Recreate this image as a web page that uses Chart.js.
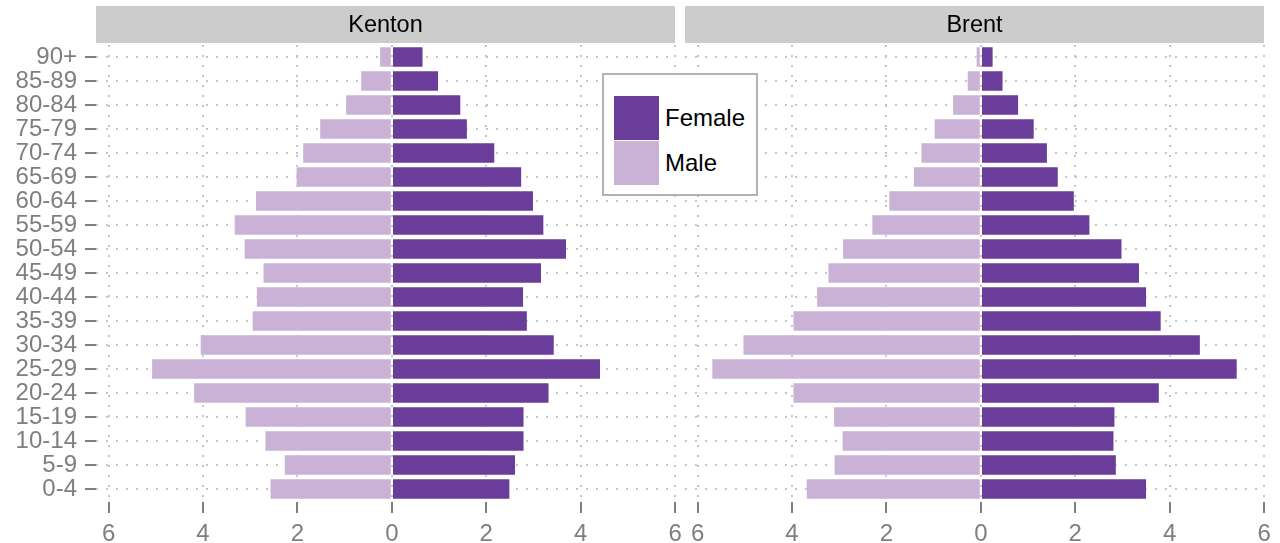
<!DOCTYPE html>
<html>
<head>
<meta charset="utf-8">
<script src="https://cdn.jsdelivr.net/npm/chart.js@4/dist/chart.umd.min.js"></script>
<style>
  html, body { margin: 0; padding: 0; background: #fff; }
  body { width: 1280px; height: 543px; position: relative; overflow: hidden; font-family: "Liberation Sans", Arial, sans-serif; }
  .panel { position: absolute; top: 0; height: 543px; }
  #wrapKenton { left: 0; width: 684px; }
  #wrapBrent { left: 676px; width: 604px; }
  #legend {
    position: absolute; left: 602px; top: 73px; width: 152px; height: 119px;
    border: 2px solid #b3b3b3; background: #fff;
  }
  .key { position: absolute; left: 10px; width: 45px; height: 44px; }
  .keyText { position: absolute; left: 61px; font-size: 24px; color: #000; line-height: 44px; }
</style>
</head>
<body>
<div class="panel" id="wrapKenton"><canvas id="chartKenton"></canvas></div>
<div class="panel" id="wrapBrent"><canvas id="chartBrent"></canvas></div>
<div id="legend"></div>
<script>
// age groups, youngest first (drawn bottom to top)
const edades = ["0-4", "5-9", "10-14", "15-19", "20-24", "25-29", "30-34", "35-39", "40-44",
    "45-49", "50-54", "55-59", "60-64", "65-69", "70-74", "75-79", "80-84", "85-89", "90+"];

// percent of population
const kentonMale = [2.59, 2.29, 2.70, 3.12, 4.21, 5.10, 4.07, 2.97, 2.88, 2.74, 3.14, 3.35, 2.90, 2.04, 1.90, 1.54, 0.99, 0.67, 0.27];
const kentonFemale = [2.51, 2.63, 2.81, 2.81, 3.34, 4.43, 3.45, 2.88, 2.80, 3.18, 3.71, 3.23, 3.01, 2.76, 2.19, 1.61, 1.47, 1.00, 0.67];
const brentMale = [3.71, 3.12, 2.95, 3.13, 3.99, 5.71, 5.05, 3.99, 3.49, 3.25, 2.94, 2.32, 1.96, 1.44, 1.28, 1.00, 0.61, 0.30, 0.11];
const brentFemale = [3.52, 2.88, 2.83, 2.85, 3.79, 5.44, 4.66, 3.83, 3.52, 3.37, 3.00, 2.32, 1.99, 1.65, 1.42, 1.14, 0.81, 0.48, 0.27];

const xTicks = [-6, -4, -2, 0, 2, 4, 6];
const colorFemale = "#6a3d9a";
const colorMale = "#cab2d6";
const gris = "#7f7f7f";

// shared x range like ggplot (data range + 5%)
const lo = -Math.max(...kentonMale, ...brentMale);
const hi = Math.max(...kentonFemale, ...brentFemale);
const xMin = lo - 0.05 * (hi - lo);
const xMax = hi + 0.05 * (hi - lo);

Chart.defaults.font.family = '"Liberation Sans", Arial, sans-serif';
Chart.defaults.font.size = 24;

const stripPlugin = {
    id: "strip",
    beforeDraw(chart, args, opts) {
        const { ctx, chartArea } = chart;
        ctx.save();
        ctx.fillStyle = "#cccccc";
        ctx.fillRect(chartArea.left, 6, chartArea.right - chartArea.left, 37);
        ctx.fillStyle = "#000";
        ctx.font = '23.5px "Liberation Sans", Arial, sans-serif';
        ctx.textAlign = "center";
        ctx.textBaseline = "middle";
        ctx.fillText(opts.text, (chartArea.left + chartArea.right) / 2, 25.5);
        ctx.restore();
    },
    afterDraw(chart) {
        // tick marks under the x axis
        const { ctx, chartArea } = chart;
        const sx = chart.scales.x;
        ctx.save();
        ctx.fillStyle = gris;
        xTicks.forEach(v => {
            const px = Math.round(sx.getPixelForValue(v));
            ctx.fillRect(px - 1, chartArea.bottom + 1, 2, 11);
        });
        ctx.restore();
    }
};

function crearPanel(id, titulo, male, female, conEjeY, padIzq, padDer) {
    return new Chart(document.getElementById(id), {
        type: "bar",
        data: {
            labels: edades,
            datasets: [
                { label: "Female", data: female, backgroundColor: colorFemale, borderColor: "rgba(255,255,255,0.45)", borderWidth: 1 },
                { label: "Male", data: male.map(v => -v), backgroundColor: colorMale, borderColor: "rgba(255,255,255,0.45)", borderWidth: 1 }
            ]
        },
        options: {
            indexAxis: "y",
            responsive: true,
            maintainAspectRatio: false,
            animation: false,
            layout: { padding: { top: 45, right: padDer, bottom: 0, left: padIzq } },
            datasets: { bar: { barPercentage: 0.9, categoryPercentage: 1.0 } },
            plugins: {
                legend: { display: false },
                tooltip: { enabled: false },
                strip: { text: titulo }
            },
            scales: {
                x: {
                    stacked: true,
                    min: xMin,
                    max: xMax,
                    afterBuildTicks: s => { s.ticks = xTicks.map(v => ({ value: v })); },
                    afterFit: s => { s.height = 42; s.paddingLeft = 0; s.paddingRight = 0; },
                    ticks: { color: gris, padding: 8, maxRotation: 0, autoSkip: false, callback: v => String(Math.abs(v)) },
                    grid: {
                        color: "#c4c4c4", lineWidth: 2, borderDash: [2, 8],
                        drawTicks: true,
                        tickColor: "rgba(0,0,0,0)", tickLength: 11
                    },
                    border: { display: false, dash: [2, 8] }
                },
                y: {
                    stacked: true,
                    reverse: true,
                    afterFit: s => { s.width = conEjeY ? 96 : 0; s.paddingTop = 0; s.paddingBottom = 0; },
                    ticks: { display: conEjeY, color: gris, padding: 8, autoSkip: false },
                    grid: {
                        offset: false,
                        color: "#c4c4c4", lineWidth: 2, borderDash: [2, 8],
                        drawTicks: conEjeY,
                        tickColor: gris, tickWidth: 2, tickLength: 11, tickBorderDash: [20, 0]
                    },
                    border: { display: false, dash: [2, 8] }
                }
            }
        },
        plugins: [stripPlugin]
    });
}

crearPanel("chartKenton", "Kenton", kentonMale, kentonFemale, true, 0, 9);
crearPanel("chartBrent", "Brent", brentMale, brentFemale, false, 9, 16);

// legend box
const legend = document.getElementById("legend");
[["Female", colorFemale], ["Male", colorMale]].forEach(([txt, col], i) => {
    const top = 21 + i * 45;
    const k = document.createElement("div");
    k.className = "key";
    k.style.top = top + "px";
    k.style.background = col;
    legend.appendChild(k);
    const t = document.createElement("div");
    t.className = "keyText";
    t.style.top = top + "px";
    t.textContent = txt;
    legend.appendChild(t);
});
</script>
</body>
</html>
